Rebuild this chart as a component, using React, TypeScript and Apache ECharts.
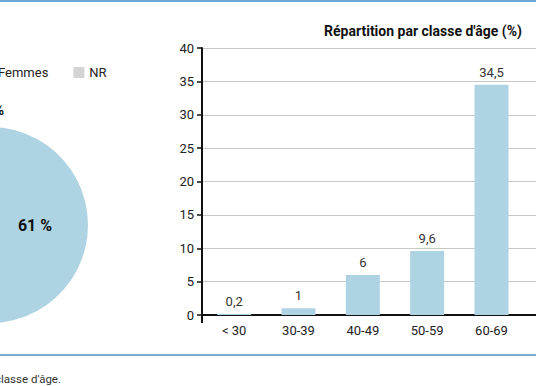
import React, { useEffect, useRef } from "react";
import * as echarts from "echarts";

const ageCategories = ["< 30", "30-39", "40-49", "50-59", "60-69", ""];
const ageValues: (number | null)[] = [0.2, 1, 6, 9.6, 34.5, null];
const yTicks = { min: 0, max: 40, interval: 5 };

const sexNames = ["Femmes", "Hommes", "NR"];
const sexValues = [61, 38, 1];
const sexColors = ["#aed4e3", "#4a8fc4", "#d4d4d4"];

const FONT = "Roboto";

export default function App() {
  const ref = useRef<HTMLDivElement>(null);
  useEffect(() => {
    document.body.style.margin = "0";
    if (!ref.current) return;
    const chart = echarts.init(ref.current, null, { renderer: "svg" });
    const fmt = (v: number) => String(v).replace(".", ",");
    chart.setOption({
      animation: false,
      textStyle: { fontFamily: FONT },
      title: {
        text: "Répartition par classe d'âge (%)",
        left: 418,
        top: 19,
        textAlign: "center",
        textStyle: { fontFamily: FONT, fontSize: 14, fontWeight: "bold", color: "#111" },
      },
      legend: {
        data: ["Femmes", "NR"],
        left: -23,
        top: 61,
        icon: "rect",
        itemWidth: 11,
        itemHeight: 11,
        itemGap: 25,
        textStyle: { fontFamily: FONT, fontSize: 13, color: "#222" },
      },
      grid: {
        left: 202,
        top: 48,
        right: -52,
        bottom: 71,
        containLabel: false,
        outerBoundsMode: "none",
      },
      xAxis: {
        type: "category",
        data: ageCategories,
        axisLine: { lineStyle: { color: "#111", width: 2 } },
        axisTick: {
          show: true,
          interval: (i: number) => i === 0,
          length: 8,
          lineStyle: { color: "#111", width: 2 },
        },
        axisLabel: { color: "#222", fontSize: 13, fontFamily: FONT, margin: 9 },
      },
      yAxis: {
        type: "value",
        min: yTicks.min,
        max: yTicks.max,
        interval: yTicks.interval,
        axisLine: { show: true, lineStyle: { color: "#111", width: 2 } },
        axisTick: { show: true, length: 5, lineStyle: { color: "#111", width: 1.5 } },
        axisLabel: { color: "#222", fontSize: 13, fontFamily: FONT, margin: 8 },
        splitLine: { lineStyle: { color: "#c8c8c8", width: 1 } },
      },
      series: [
        {
          type: "bar",
          data: ageValues,
          barWidth: 34,
          itemStyle: { color: "#aed4e3" },
          label: {
            show: true,
            position: "top",
            distance: 6,
            color: "#333",
            fontSize: 13,
            fontFamily: FONT,
            formatter: (p: any) => fmt(p.value),
          },
        },
        {
          type: "pie",
          center: [-10, 225],
          radius: 98,
          startAngle: 109.8,
          clockwise: true,
          data: sexNames.map((n, i) => ({
            name: n,
            value: sexValues[i],
            itemStyle: { color: sexColors[i] },
            label:
              i === 0
                ? {
                    show: true,
                    position: "inside",
                    formatter: "{c} %",
                    fontSize: 16,
                    fontWeight: "bold",
                    color: "#111",
                    fontFamily: FONT,
                    padding: [0, 14, 0, 0],
                  }
                : { show: false },
          })),
          labelLine: { show: false },
          emphasis: { disabled: true },
        },
      ],
      graphic: [
        { type: "rect", shape: { x: 0, y: 0, width: 536, height: 2 }, style: { fill: "#6fa6dc" } },
        { type: "rect", shape: { x: 0, y: 354, width: 536, height: 2 }, style: { fill: "#7eaad2" } },
        {
          type: "text",
          x: 4,
          y: 103,
          style: {
            text: "38 %",
            align: "right",
            fontSize: 14,
            fontWeight: "bold",
            fill: "#111",
            fontFamily: FONT,
          },
        },
        {
          type: "text",
          x: 61,
          y: 373,
          style: { text: "classe d'âge.", align: "right", fontSize: 11.5, fill: "#333", fontFamily: FONT },
        },
      ],
    });
    return () => chart.dispose();
  }, []);
  return <div ref={ref} style={{ width: 536, height: 386 }} />;
}
